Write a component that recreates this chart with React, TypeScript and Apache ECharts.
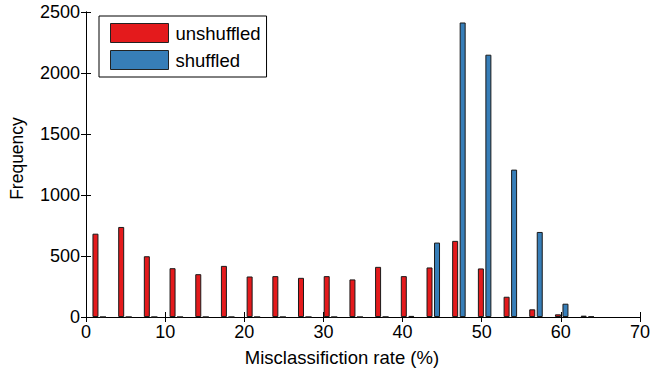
import React, { useEffect, useRef } from "react";
import * as echarts from "echarts";

// Histogram bin centres (misclassification rate, %)
const binCenters = [
  1.67, 4.92, 8.16, 11.41, 14.66, 17.9, 21.15, 24.4, 27.64, 30.89,
  34.14, 37.38, 40.63, 43.88, 47.12, 50.37, 53.62, 56.86, 60.11, 63.36,
];

// Counts per bin
const unshuffled = [
  683, 738, 498, 400, 351, 419, 332, 335, 321, 335,
  308, 411, 335, 406, 624, 398, 166, 63, 22, 11,
];
const shuffled = [
  0, 0, 0, 0, 0, 0, 0, 0, 0, 0,
  0, 1, 9, 610, 2414, 2150, 1208, 697, 109, 4,
];

const xTicks = [0, 10, 20, 30, 40, 50, 60, 70];
const yTicks = [0, 500, 1000, 1500, 2000, 2500];

const FONT = "Liberation Sans, Arial, Helvetica, sans-serif";

export default function App() {
  const ref = useRef<HTMLDivElement>(null);

  useEffect(() => {
    if (!ref.current) return;
    const chart = echarts.init(ref.current, null, { renderer: "svg" });

    const axisLine = { show: true, lineStyle: { color: "#000", width: 1 } };
    const tick = { show: true, inside: true, length: 5, lineStyle: { color: "#000", width: 1 } };
    const plain = (v: number) => String(v);

    chart.setOption({
      animation: false,
      backgroundColor: "#fff",
      textStyle: { fontFamily: FONT },
      grid: { left: 86, right: 13, top: 12, bottom: 54, containLabel: false },
      legend: {
        orient: "vertical",
        left: 99,
        top: 16,
        padding: [7, 6, 7, 11],
        itemGap: 7,
        itemWidth: 58,
        itemHeight: 19,
        borderColor: "#000",
        borderWidth: 1,
        backgroundColor: "#fff",
        icon: "rect",
        itemStyle: { borderColor: "#222", borderWidth: 1 },
        textStyle: { fontFamily: FONT, fontSize: 18.5, color: "#000", padding: [0, 0, 0, 2] },
        data: ["unshuffled", "shuffled"],
      },
      xAxis: [
        {
          type: "value",
          min: xTicks[0],
          max: xTicks[xTicks.length - 1],
          interval: 10,
          name: "Misclassifiction rate (%)",
          nameLocation: "middle",
          nameGap: 31,
          nameTextStyle: { fontFamily: FONT, fontSize: 18.5, color: "#000", padding: [0, 42, 0, 0] },
          axisLine,
          axisTick: tick,
          axisLabel: { color: "#000", fontSize: 18, fontFamily: FONT, margin: 6, formatter: plain },
          splitLine: { show: false },
        },
        {
          type: "value",
          position: "top",
          min: xTicks[0],
          max: xTicks[xTicks.length - 1],
          interval: 10,
          axisLine,
          axisTick: tick,
          axisLabel: { show: false },
          splitLine: { show: false },
        },
      ],
      yAxis: [
        {
          type: "value",
          min: yTicks[0],
          max: yTicks[yTicks.length - 1],
          interval: 500,
          name: "Frequency",
          nameLocation: "middle",
          nameGap: 60,
          nameTextStyle: { fontFamily: FONT, fontSize: 17.5, color: "#000", padding: [0, 0, 0, 12] },
          axisLine,
          axisTick: tick,
          axisLabel: { color: "#000", fontSize: 18, fontFamily: FONT, margin: 6, formatter: plain },
          splitLine: { show: false },
        },
        {
          type: "value",
          position: "right",
          min: yTicks[0],
          max: yTicks[yTicks.length - 1],
          interval: 500,
          axisLine,
          axisTick: tick,
          axisLabel: { show: false },
          splitLine: { show: false },
        },
      ],
      series: [
        {
          name: "unshuffled",
          type: "bar",
          xAxisIndex: 0,
          yAxisIndex: 0,
          barWidth: 6,
          barGap: "25%",
          itemStyle: { color: "#e41a1c", borderColor: "#1a1a1a", borderWidth: 1 },
          data: binCenters.map((x, i) => [x, unshuffled[i]]),
        },
        {
          name: "shuffled",
          type: "bar",
          xAxisIndex: 0,
          yAxisIndex: 0,
          barWidth: 6,
          barGap: "25%",
          itemStyle: { color: "#377eb8", borderColor: "#1a1a1a", borderWidth: 1 },
          data: binCenters.map((x, i) => [x, shuffled[i]]),
        },
      ],
    });

    return () => chart.dispose();
  }, []);

  return <div ref={ref} style={{ width: 653, height: 372, position: "absolute", left: 0, top: 0 }} />;
}
